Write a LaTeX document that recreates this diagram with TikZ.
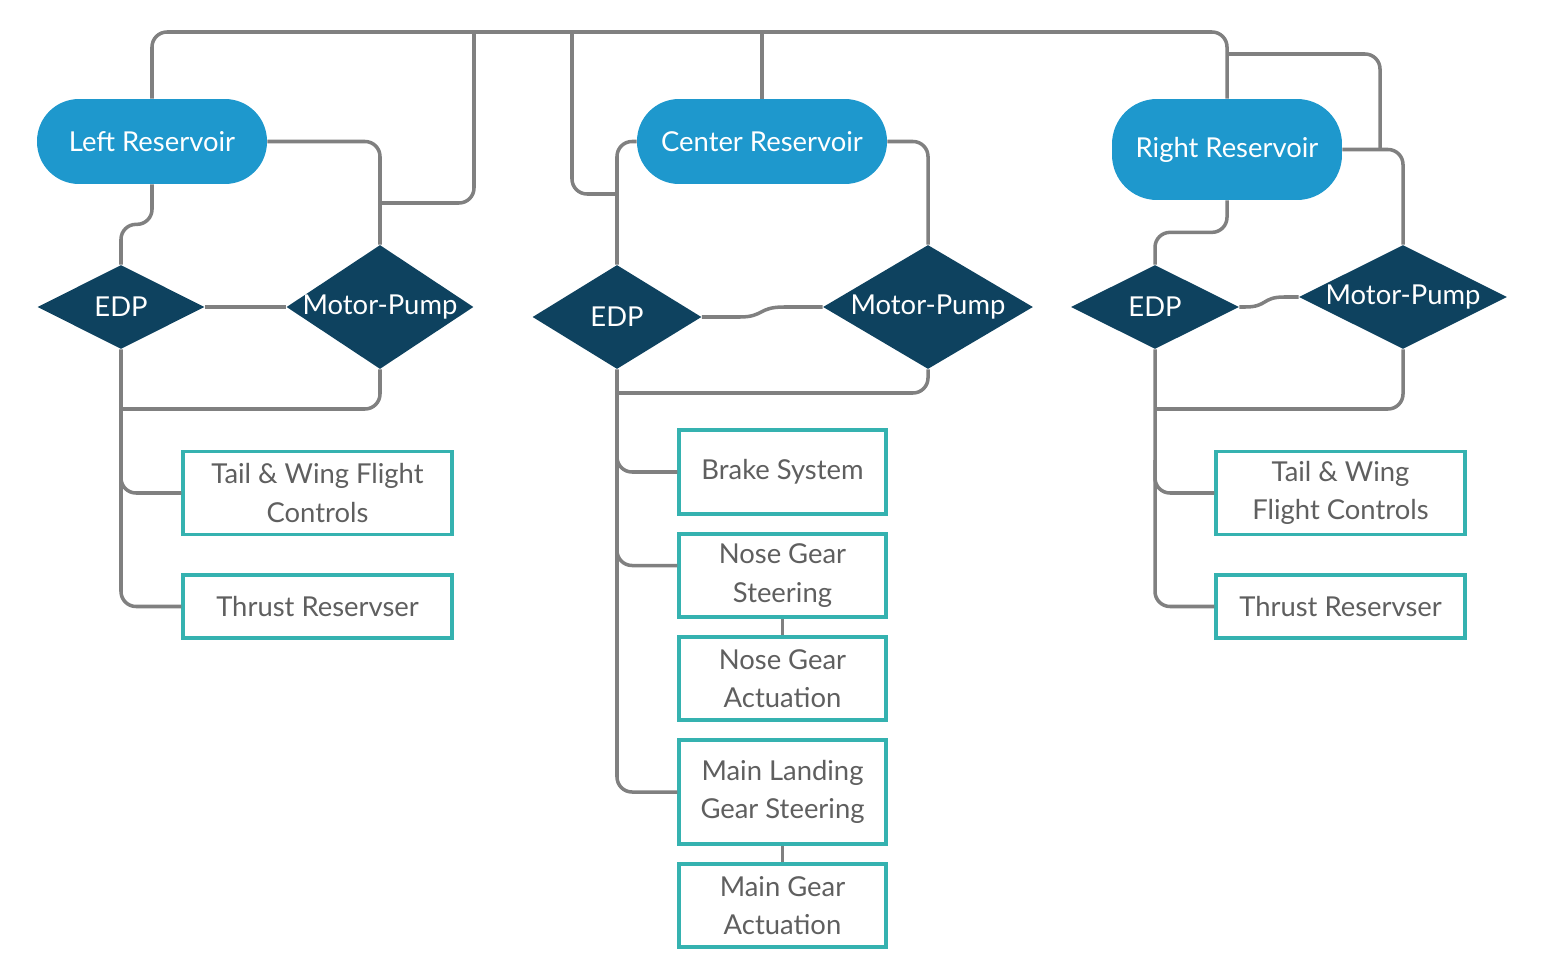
\documentclass[tikz,border=0pt]{standalone}
\usepackage{fontspec}
\setmainfont{Lato}
\usetikzlibrary{positioning,calc,shapes.geometric}
\definecolor{tankblue}{HTML}{1E98CD}
\definecolor{pumpnavy}{HTML}{0E425F}
\definecolor{unitteal}{HTML}{35B2B0}
\definecolor{pipegray}{HTML}{808080}
\definecolor{unitgray}{HTML}{5F5F5F}

\begin{document}
\begin{tikzpicture}[x=0.02cm, y=-0.02cm, font=\fontsize{15.6}{22}\selectfont,
  pipe/.style={draw=pipegray, line width=2pt, rounded corners=0.3cm},
  tank/.style={rectangle, rounded corners=0.84cm, fill=tankblue, text=white, minimum width=4.6cm, minimum height=1.7cm},
  pump/.style={diamond, fill=pumpnavy, text=white, inner sep=0pt},
  unit/.style={draw=unitteal, line width=1.9pt, text=unitgray, fill=white, align=center, minimum height=1.66cm}]
  \useasboundingbox (0,0) rectangle (1542,970);

  % reservoirs
  \node[tank] (lres) at (152,141.5) {Left Reservoir};
  \node[tank, minimum width=5cm] (cres) at (762,141.5) {Center Reservoir};
  \node[tank, minimum height=2.02cm, rounded corners=0.9cm] (rres) at (1227,149.5) {Right Reservoir};

  % pumps
  \node[pump, minimum width=3.34cm, minimum height=1.68cm] (ledp) at (121,307) {\makebox[0pt]{EDP}};
  \node[pump, minimum width=3.74cm, minimum height=2.48cm] (lmp) at (380,307) {\makebox[0pt]{Motor-Pump}};
  \node[pump, minimum width=3.38cm, minimum height=2.08cm] (cedp) at (617,317) {\makebox[0pt]{EDP}};
  \node[pump, minimum width=4.2cm, minimum height=2.48cm] (cmp) at (928,307) {\makebox[0pt]{Motor-Pump}};
  \node[pump, minimum width=3.36cm, minimum height=1.68cm] (redp) at (1155,307) {\makebox[0pt]{EDP}};
  \node[pump, minimum width=4.16cm, minimum height=2.08cm] (rmp) at (1403,297) {\makebox[0pt]{Motor-Pump}};

  % consumers
  \node[unit, minimum width=5.38cm] (ltail) at (317.5,493) {Tail \& Wing Flight\\Controls};
  \node[unit, minimum width=5.38cm, minimum height=1.26cm] (lthrust) at (317.5,606.5) {Thrust Reservser};
  \node[unit, minimum width=4.14cm, minimum height=1.68cm] (brake) at (782.5,472) {Brake System};
  \node[unit, minimum width=4.14cm] (nsteer) at (782.5,575.5) {Nose Gear\\Steering};
  \node[unit, minimum width=4.14cm] (nact) at (782.5,678.5) {Nose Gear\\Actuation};
  \node[unit, minimum width=4.14cm, minimum height=2.08cm] (msteer) at (782.5,792) {Main Landing\\Gear Steering};
  \node[unit, minimum width=4.14cm] (mact) at (782.5,905.5) {Main Gear\\Actuation};
  \node[unit, minimum width=4.98cm] (rtail) at (1340.5,493) {Tail \& Wing\\Flight Controls};
  \node[unit, minimum width=4.98cm, minimum height=1.26cm] (rthrust) at (1340.5,606.5) {Thrust Reservser};

  % cross-feed bus
  \coordinate (bus) at (700,32);
  \coordinate (tapl) at (474,32);
  \coordinate (tapc) at (572,32);
  \coordinate (tapr) at (1227,54);
  \draw[pipe] (lres.north) |- (bus) -| (rres.north);
  \draw[pipe] (tapl) |- (lmp.north |- 0,203);
  \draw[pipe] (tapc) |- (cedp.north |- 0,194);
  \draw[pipe] (bus -| cres.north) -- (cres.north);
  \draw[pipe] (tapr) -| (rres.east -| 1380,0);

  % left system
  \draw[pipe] (lres.east) -| (lmp.north);
  \draw[pipe] (lres.south) -- ++(0,40) -| (ledp.north);
  \draw[pipe] (ledp.east) -- (lmp.west);
  \draw[pipe] (ledp.south) |- (lthrust.west);
  \draw[pipe] (lmp.south) |- (ledp.south |- 0,409);
  \draw[pipe] (ledp.south |- 0,460) |- (ltail.west);

  % center system
  \draw[pipe] (cres.west) -| (cedp.north);
  \draw[pipe] (cres.east) -| (cmp.north);
  \draw[pipe, sharp corners] (cedp.east) -- ++(38,0) .. controls ++(24,0) and (758,307) .. (784,307) -- (cmp.west);
  \draw[pipe] (cedp.south) |- (msteer.west);
  \draw[pipe] (cmp.south) |- (cedp.south |- 0,393);
  \draw[pipe] (cedp.south |- 0,440) |- (brake.west);
  \draw[pipe] (cedp.south |- 0,530) |- ([yshift=0.2cm]nsteer.west);
  \draw[pipe] (nsteer) -- (nact);
  \draw[pipe] (msteer) -- (mact);

  % right system
  \draw[pipe] (rres.east) -| (rmp.north);
  \draw[pipe] (rres.south) -- ++(0,32) -| (redp.north);
  \draw[pipe, sharp corners] (redp.east) -- ++(6,0) .. controls ++(22,0) and (1262,297) .. (1284,297) -- (rmp.west);
  \draw[pipe] (redp.south) |- (rthrust.west);
  \draw[pipe] (rmp.south) |- (redp.south |- 0,409);
  \draw[pipe] (redp.south |- 0,460) |- (rtail.west);
\end{tikzpicture}
\end{document}
